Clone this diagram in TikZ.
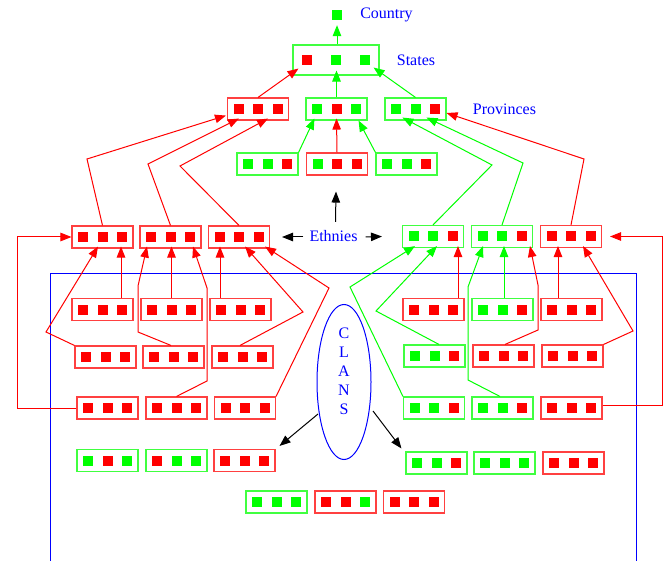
\documentclass[tikz,border=0pt]{standalone}
\usepackage{fontspec}
\setmainfont{Liberation Serif}
\usetikzlibrary{arrows.meta,calc,shapes.geometric}
\definecolor{R}{RGB}{255,0,0}
\definecolor{G}{RGB}{0,255,0}
\definecolor{B}{RGB}{0,0,255}
\tikzset{
  tb/.style={rectangle, minimum width=61pt, minimum height=22pt, inner sep=0pt, line width=1.1pt},
  sq/.style={rectangle, minimum size=10pt, inner sep=0pt, draw=none},
  lab/.style={text=B, inner sep=0pt, font=\fontsize{16}{19}\selectfont, text height=11pt, text depth=3pt},
  clab/.style={text=B, inner sep=0pt, align=center, font=\fontsize{16}{19.1}\selectfont},
  con/.style={line width=1pt, -{Triangle[length=11pt,width=8.5pt]}},
}
\newcommand\tbox[7]{%
  \node[tb, draw=#4!75] (#1) at (#2,#3) {};
  \node[sq, fill=#5] (#1a) at ($(#1.center)+(-19.5,0)$) {};
  \node[sq, fill=#6] (#1b) at (#1.center) {};
  \node[sq, fill=#7] (#1c) at ($(#1.center)+(19.5,0)$) {};
}
\begin{document}
\begin{tikzpicture}[x=1pt,y=-1pt]
\useasboundingbox (0,0) rectangle (666,561);
% blue frame
\draw[B, line width=1pt] (50,561) -- (50,273) -- (636,273) -- (636,561);
% top
\node[sq, fill=G] (country) at (337,15) {};
\node[lab] (countrylab) at (386.5,15) {Country};
\node[rectangle, draw=G!75, line width=1.1pt, minimum width=86pt, minimum height=30pt, inner sep=0pt] (states) at (336,60) {};
\node[sq, fill=R] (statesa) at ($(states.center)+(-29,0)$) {};
\node[sq, fill=G] (statesb) at (states.center) {};
\node[sq, fill=G] (statesc) at ($(states.center)+(29,0)$) {};
\node[lab] (stateslab) at (416,62) {States};
\node[lab] (provlab) at (504.5,111) {Provinces};
% boxes
\tbox{P1}{258}{109}{R}{R}{R}{R}
\tbox{P2}{336.5}{109}{G}{G}{R}{G}
\tbox{P3}{415.5}{109}{G}{G}{G}{R}
\tbox{M1}{267.5}{164}{G}{G}{G}{R}
\tbox{M2}{337}{164}{R}{G}{R}{R}
\tbox{M3}{406.5}{164}{G}{G}{G}{R}
\tbox{E1}{102.5}{237}{R}{R}{R}{R}
\tbox{E2}{170.5}{237}{R}{R}{R}{R}
\tbox{E3}{239}{237}{R}{R}{R}{R}
\tbox{E4}{433}{236.5}{G}{G}{G}{R}
\tbox{E5}{502}{236.5}{G}{G}{G}{R}
\tbox{E6}{571}{236.5}{R}{R}{R}{R}
\tbox{L11}{102.5}{309.5}{R}{R}{R}{R}
\tbox{L12}{171.5}{309.5}{R}{R}{R}{R}
\tbox{L13}{240.5}{309.5}{R}{R}{R}{R}
\tbox{L21}{105.5}{357}{R}{R}{R}{R}
\tbox{L22}{173.5}{357}{R}{R}{R}{R}
\tbox{L23}{242.5}{357}{R}{R}{R}{R}
\tbox{L31}{107.5}{408}{R}{R}{R}{R}
\tbox{L32}{176.5}{408}{R}{R}{R}{R}
\tbox{L33}{245}{408}{R}{R}{R}{R}
\tbox{R11}{433.5}{309.5}{R}{R}{R}{R}
\tbox{R12}{502.5}{309.5}{G}{G}{G}{R}
\tbox{R13}{571.5}{309.5}{R}{R}{R}{R}
\tbox{R21}{434.5}{356}{G}{G}{G}{R}
\tbox{R22}{503.5}{356}{R}{R}{R}{R}
\tbox{R23}{572.5}{356}{R}{R}{R}{R}
\tbox{R31}{434}{408}{G}{G}{G}{R}
\tbox{R32}{502.5}{408}{G}{G}{G}{R}
\tbox{R33}{571.5}{408}{R}{R}{R}{R}
\tbox{L41}{107.5}{460.5}{G}{G}{R}{G}
\tbox{L42}{176.5}{460.5}{G}{R}{G}{G}
\tbox{L43}{244.5}{460.5}{R}{R}{R}{R}
\tbox{R41}{436.5}{463}{G}{G}{G}{R}
\tbox{R42}{504.5}{463}{G}{G}{G}{G}
\tbox{R43}{573.5}{463}{R}{R}{R}{R}
\tbox{B1}{276.5}{502}{G}{G}{G}{G}
\tbox{B2}{345.5}{502}{R}{R}{R}{G}
\tbox{B3}{414}{502}{R}{R}{R}{R}
% labels
\node[lab] (eth) at (333.5,237) {Ethnies};
\node[ellipse, draw=B, line width=1pt, minimum width=54pt, minimum height=155pt, inner sep=0pt] (clans) at (344,382) {};
\node[clab] (clanstext) at (344,371) {C\\L\\A\\N\\S};
% top connectors
\draw[con,G] (states.north -| country.south) -- ($(country.south)+(0,5)$);
\draw[con,R] (P1.north) -- ($(states.south west)+(6,-7)$);
\draw[con,G] (P2.north) -- ($(states.south)+(0.5,-5)$);
\draw[con,G] (P3.north) -- ($(states.south east)+(-6,-8)$);
\draw[con,G] (M1.north east) -- ($(P2.south west)+(9,-2)$);
\draw[con,R] (M2.north) -- ($(P2.south)+(0,-2)$);
\draw[con,G] (M3.north west) -- ($(P2.south east)+(-9,0)$);
\draw[con,R] (E1.north) -- (87,159) -- ($(P1.south west)+(-1,-5)$);
\draw[con,R] (E2.north) -- (148,164) -- ($(P1.south west)+(12,-2)$);
\draw[con,R] (E3.north) -- (180,166) -- ($(P1.south east)+(-21,-2)$);
\draw[con,G] (E4.north) -- (492,165) -- ($(P3.south west)+(18,-3)$);
\draw[con,G] (E5.north) -- (523,163) -- ($(P3.south west)+(42,-3)$);
\draw[con,R] (E6.north) -- (584,159) -- ($(P3.east)+(0,4)$);
% ethnies arrows
\draw[con,black] ($(eth.west)+(-6,0)$) -- ($(E3.east)+(12,0)$);
\draw[con,black] ($(eth.east)+(8,0)$) -- ($(E4.west)+(-20,0)$);
\draw[con,black] ($(eth.north)+(2,-8)$) -- ($(M2.south)+(-1,16)$);
% side connectors
\draw[con,R] (L31.west) -- (17,408) |- (E1.west);
\draw[con,R] ($(R33.east)+(0,-3)$) -- (662,405) |- ($(E6.east)+(8,0)$);
% left clans
\draw[con,R] (L21.north west) -- (46,332) -- ($(E1.south)+(-4.5,-2)$);
\draw[con,R] ($(L11.north)+(18.5,0)$) -- ($(E1.south)+(18.5,-2)$);
\draw[con,R] ($(L22.north)+(-2.5,0)$) -- (138,332) -- (138,286) -- ($(E2.south)+(-23.5,-2)$);
\draw[con,R] (L12.north) -- ($(E2.south)+(1,-2)$);
\draw[con,R] (L32.north) -- (207,381) -- (207,288) -- ($(E2.south)+(22.5,-2)$);
\draw[con,R] ($(L13.north)+(-20.5,0)$) -- ($(E3.south)+(-19,-2)$);
\draw[con,R] ($(L23.north)+(-2.5,0)$) -- (303,312) -- ($(E3.south)+(6,-2)$);
\draw[con,R] (L33.north east) -- (329,288) -- ($(E3.south)+(26,-2)$);
% right clans
\draw[con,G] (R31.north west) -- (350,287) -- ($(E4.south)+(-18,-2)$);
\draw[con,G] ($(R21.north)+(4.5,0)$) -- (376,311) -- ($(E4.south)+(4,-2)$);
\draw[con,R] ($(R11.north)+(24.5,0)$) -- ($(E4.south)+(25,-2)$);
\draw[con,G] ($(R32.north)+(-2.5,0)$) -- (468,380) -- (468,287) -- ($(E5.south)+(-19,-2)$);
\draw[con,G] ($(R12.north)+(1.5,0)$) -- ($(E5.south)+(2,-2)$);
\draw[con,R] ($(R22.north)+(1.5,0)$) -- (538,330) -- (538,285) -- ($(E5.south)+(28,-2)$);
\draw[con,R] ($(R13.north)+(-13.5,0)$) -- ($(E6.south)+(-13,-2)$);
\draw[con,R] (R23.north east) -- (633,331) -- ($(E6.south)+(12,-2)$);
% clans arrows
\draw[con,black] ($(clans.center)+(-26,32)$) -- ($(L43.north east)+(4,-3)$);
\draw[con,black] ($(clans.center)+(29,29)$) -- ($(R41.north west)+(-4,-3)$);
\end{tikzpicture}
\end{document}
